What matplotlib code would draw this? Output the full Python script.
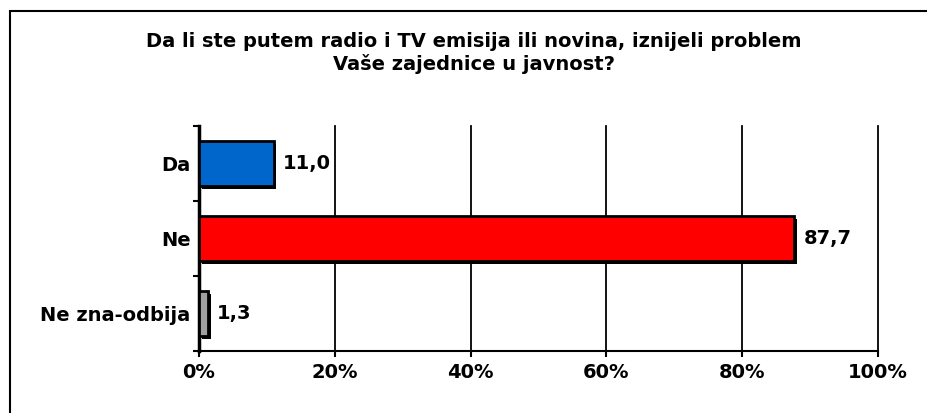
import matplotlib
matplotlib.use("Agg")
import matplotlib.pyplot as plt
import matplotlib.patheffects as pe
from matplotlib.patches import Rectangle

categories = ["Da", "Ne", "Ne zna-odbija"]
values = [11.0, 87.7, 1.3]
colors = ["#0066CC", "#FF0000", "#A0A0A0"]
xticks = [0, 20, 40, 60, 80, 100]
xtick_labels = ["0%", "20%", "40%", "60%", "80%", "100%"]
title = "Da li ste putem radio i TV emisija ili novina, iznijeli problem\nVaše zajednice u javnost?"

plt.rcParams['font.family'] = ['DejaVu Sans']
W, H = 928, 413
FS = 14
fig = plt.figure(figsize=(W / 100, H / 100), dpi=100)
fig.patch.set_facecolor("white")

# outer frame
fig.patches.append(Rectangle((10 / W, -0.1), 1.2, 1 - 11 / H + 0.1, transform=fig.transFigure,
                             fill=False, edgecolor="black", linewidth=1.5))

ax = fig.add_axes([199 / W, 1 - 351 / H, (878 - 199) / W, (351 - 126) / H])
ypos = list(range(len(categories)))
bars = ax.barh(ypos, values, height=0.6, color=colors, edgecolor="black", linewidth=2, zorder=3)
for b in bars:
    b.set_path_effects([pe.SimplePatchShadow(offset=(2, -2), shadow_rgbFace="black", alpha=1), pe.Normal()])

for y, v in zip(ypos, values):
    ax.text(v + 1.3, y, f"{v:.1f}".replace(".", ","), va="center", ha="left",
            fontsize=FS, fontweight="bold")

ax.set_xlim(0, 100)
ax.set_ylim(len(categories) - 0.5, -0.5)
ax.set_xticks(xticks)
ax.set_xticklabels(xtick_labels, fontsize=FS, fontweight="bold")
ax.set_yticks(ypos)
ax.set_yticklabels(categories, fontsize=FS, fontweight="bold")
ax.tick_params(axis="y", length=0, pad=6)
ax.tick_params(axis="x", length=4, width=1.5, pad=5)
ax.set_yticks([-0.5, 0.5, 1.5, 2.5], minor=True)
ax.tick_params(axis="y", which="minor", length=4, width=1.5)
for xv in xticks[1:]:
    ax.axvline(xv, color="black", linewidth=1.3, zorder=0, clip_on=False)
for s in ["top", "right"]:
    ax.spines[s].set_visible(False)
ax.spines["left"].set_linewidth(2.5)
ax.spines["bottom"].set_linewidth(1.5)
ax.set_axisbelow(True)

fig.text(474 / W, 1 - 53 / H, title, ha="center", va="center", fontsize=FS,
         fontweight="bold", linespacing=1.2)

fig.savefig("out.png", dpi=100, facecolor="white")
